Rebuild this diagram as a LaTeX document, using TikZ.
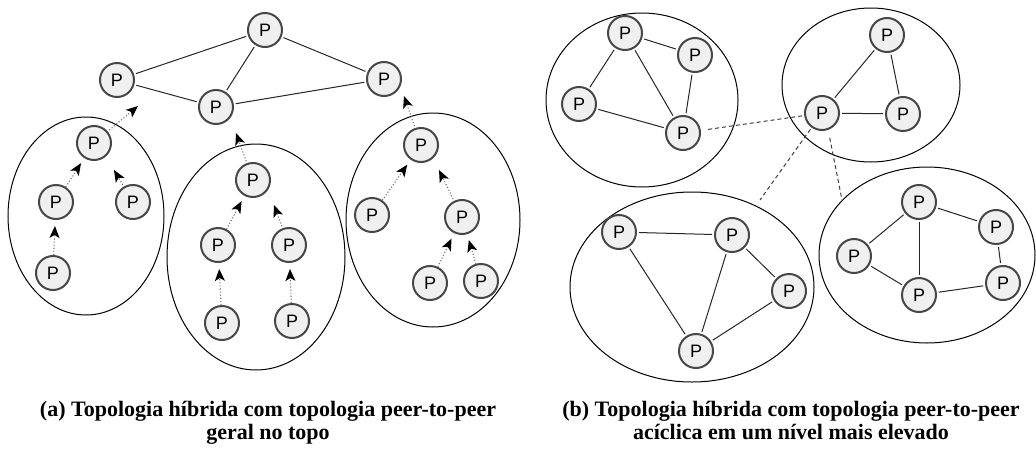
\documentclass[tikz,border=0pt]{standalone}
\usepackage{fontspec}
\setmainfont{Liberation Serif}
\newfontfamily\peerfont{Liberation Sans}
\usetikzlibrary{arrows.meta}

\begin{document}
\begin{tikzpicture}[x=1pt, y=-1pt,
  peer/.style={circle, draw=black!72, line width=2pt, fill=black!6, minimum size=34pt, inner sep=0pt,
               font=\peerfont\fontsize{18}{18}\selectfont},
  link/.style={line width=1pt, draw=black!85, shorten <=2pt, shorten >=2pt},
  uplink/.style={dotted, line width=1.1pt, draw=black!55, -{Stealth[length=12pt, width=10pt, inset=3pt, black]}},
  bridge/.style={line width=1pt, draw=black!75, dash pattern=on 4pt off 3pt},
  group/.style={line width=1pt},
  caption/.style={align=center, inner sep=0pt, anchor=north, font=\bfseries\fontsize{22}{23}\selectfont}]

\useasboundingbox (0,0) rectangle (1036,450);

% Groups of peers
\foreach \cx/\cy/\rx/\ry in {86/216/78/99, 256/257/89/113, 433/220/87/107,
                             642/100/96/87, 871/85/89/77, 692/287/122/95, 927/255/108/88} {
  \draw[group] (\cx,\cy) ellipse [x radius=\rx pt, y radius=\ry pt];
}

% Peers (a)
\foreach \n/\x/\y in {
t1/265/30, t2/117/80, t3/216/107, t4/384/79,
a1/94/143, a2/56/202, a3/133/202, a4/53/273,
b1/253/180, b2/218/245, b3/289/245, b4/222/323, b5/292/321,
c1/421/145, c2/372/215, c3/462/217, c4/430/283, c5/481/281
} {
  \node[peer] (\n) at (\x,\y) {P};
}

% Peers (b)
\foreach \n/\x/\y in {
p1/625/33, p2/695/55, p3/579/104, p4/683/133,
q1/887/35, q2/822/113, q3/903/114,
r1/619/232, r2/732/235, r3/789/291, r4/696/351,
s1/919/202, s2/996/227, s3/854/256, s4/919/295, s5/1003/283
} {
  \node[peer] (\n) at (\x,\y) {P};
}

% Free ends of the arrows and dashed links
\coordinate (a1up) at (138,106);
\coordinate (a3up) at (114,170);
\coordinate (b1up) at (236,133);
\coordinate (b3up) at (274,205);
\coordinate (c1up) at (404,96);
\coordinate (c3up) at (439,170);
\coordinate (ctop) at (760,200);
\coordinate (dtop) at (842,200);

% Peer-to-peer links
\foreach \u/\v in {t1/t2, t1/t3, t1/t4, t2/t3, t3/t4,
                   p1/p2, p1/p3, p1/p4, p2/p4, p3/p4,
                   q1/q2, q1/q3, q2/q3,
                   r1/r2, r1/r4, r2/r4, r2/r3, r3/r4,
                   s1/s2, s1/s3, s1/s4, s3/s4, s4/s5, s2/s5} {
  \draw[link] (\u) -- (\v);
}

% Client-server links (a)
\foreach \u/\v in {a2/a1, a4/a2, b2/b1, b4/b2, b5/b3, c2/c1, c4/c3, c5/c3} {
  \draw[uplink, shorten >=6pt] (\u) -- (\v);
}
\foreach \u in {a1, a3, b1, b3, c1, c3} {
  \draw[uplink, shorten <=2pt] (\u) -- (\u up);
}

% Links between the groups (b)
\draw[bridge, shorten <=2pt, shorten >=7pt] (q2) -- (p4);
\draw[bridge, shorten <=2pt] (q2) -- (ctop);
\draw[bridge, shorten <=8pt] (q2.-70) -- (dtop);

% Captions
\node[caption] (capa) at (268,401) {(a) Topologia híbrida com topologia peer-to-peer\\geral no topo};
\node[caption] (capb) at (791,401) {(b) Topologia híbrida com topologia peer-to-peer\\acíclica em um nível mais elevado};

\end{tikzpicture}
\end{document}
